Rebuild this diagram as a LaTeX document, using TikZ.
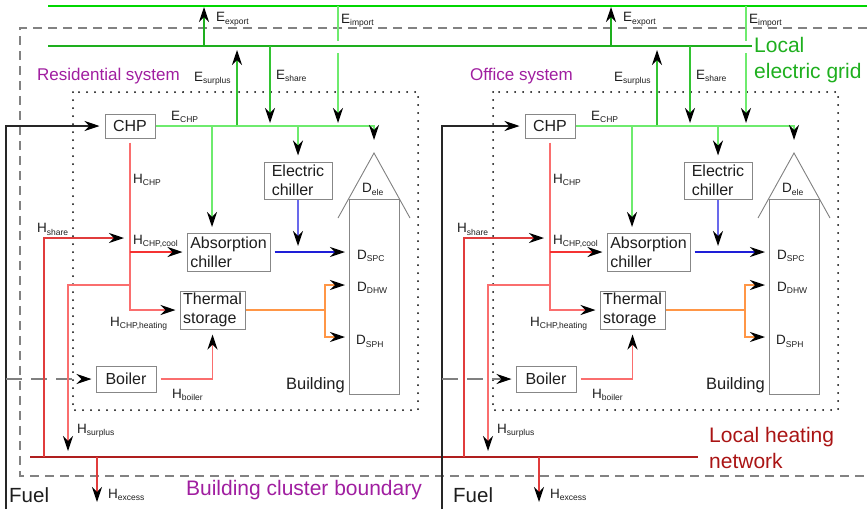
\documentclass[tikz,border=0pt]{standalone}
\usepackage{fontspec}
\setmainfont{Liberation Sans}
\usetikzlibrary{arrows.meta,calc}
\definecolor{gridgreen}{RGB}{0,215,0}
\definecolor{localgreen}{RGB}{30,175,30}
\definecolor{busgreen}{RGB}{110,235,110}
\definecolor{midgreen}{RGB}{50,195,50}
\definecolor{salmon}{RGB}{250,110,110}
\definecolor{hred}{RGB}{225,60,60}
\definecolor{brightred}{RGB}{245,50,50}
\definecolor{netred}{RGB}{175,30,30}
\definecolor{lblred}{RGB}{170,20,20}
\definecolor{sysblue}{RGB}{30,30,215}
\definecolor{lightblue}{RGB}{105,105,235}
\definecolor{orng}{RGB}{255,150,70}
\definecolor{purp}{RGB}{160,30,160}
\definecolor{boxgray}{RGB}{135,135,135}
\definecolor{dashgray}{RGB}{130,130,130}
\definecolor{txt}{RGB}{30,30,30}
\newcommand{\sx}[2]{#1\raisebox{-2.5pt}{\fontsize{8.5}{9}\selectfont #2}}
\begin{document}
\begin{tikzpicture}[x=1pt,y=-1pt,
  arr/.style={-{Stealth[length=15pt,width=10pt,inset=5pt,black]}},
  sysbox/.style={draw=boxgray, line width=1pt, fill=white, text=txt, font=\fontsize{16}{19}\selectfont, align=left, inner sep=0pt},
  bldbox/.style={draw=boxgray, line width=1pt, inner sep=0pt},
  lab/.style={text=txt, font=\fontsize{13.5}{14}\selectfont, inner sep=0pt, anchor=base west},
  syslab/.style={text=purp, font=\fontsize{17}{20}\selectfont, inner sep=0pt, anchor=west},
  bigtxt/.style={text=txt, font=\fontsize{16.5}{20}\selectfont, inner sep=0pt},
  dotbox/.style={draw=black, line width=2pt, dash pattern=on 0pt off 8pt, line cap=round},
  bound/.style={draw=dashgray, line width=1.3pt, dash pattern=on 9pt off 6pt},
  fuelline/.style={draw=black!85, line width=1.1pt},
  fueldash/.style={draw=gray, line width=1.1pt, dash pattern=on 16pt off 9pt},
  gridline/.style={draw=gridgreen, line width=2pt},
  localline/.style={draw=localgreen, line width=2pt},
  netline/.style={draw=netred, line width=1.5pt},
  expline/.style={draw=localgreen, line width=1.4pt},
  impline/.style={draw=busgreen, line width=1.4pt},
  surline/.style={draw=midgreen, line width=1.4pt},
  ebus/.style={draw=busgreen, line width=1.4pt},
  hchp/.style={draw=salmon, line width=1.4pt},
  hcool/.style={draw=brightred, line width=1.4pt},
  hshare/.style={draw=hred, line width=1.4pt},
  blueline/.style={draw=sysblue, line width=1.4pt},
  lblue/.style={draw=lightblue, line width=1.4pt},
  orline/.style={draw=orng, line width=1.4pt},
  roofline/.style={draw=gray, line width=0.9pt}
]
\useasboundingbox (0,0) rectangle (867,509);
% global lines
\coordinate (gg0) at (48,6); \coordinate (gg1) at (867,6);
\coordinate (lg0) at (48,46); \coordinate (lg1) at (752,46);
\coordinate (hn0) at (30,457); \coordinate (hn1) at (698,457);
\coordinate (bd0) at (867,28); \coordinate (bd1) at (20,28);
\coordinate (bd2) at (20,476); \coordinate (bd3) at (867,476);
\draw[bound] (bd0) -- (bd1) -- (bd2) -- (bd3);
\draw[gridline] (gg0) -- (gg1);
\draw[localline] (lg0) -- (lg1);
\draw[netline] (hn0) -- (hn1);
\node[text=localgreen, font=\fontsize{21}{26}\selectfont, align=left, anchor=west, inner sep=0pt] (leg) at (754,60) {Local\\electric grid};
\node[text=lblred, font=\fontsize{21}{26}\selectfont, align=left, anchor=west, inner sep=0pt] (lhn) at (709,448) {Local heating\\network};
\node[text=purp, font=\fontsize{21}{24}\selectfont, inner sep=0pt] (bcb) at (304,490) {Building cluster boundary};
\node[text=txt, font=\fontsize{20.5}{24}\selectfont, inner sep=0pt, anchor=west] (fuel1) at (9,495) {Fuel};
\node[text=txt, font=\fontsize{20.5}{24}\selectfont, inner sep=0pt, anchor=west] (fuel2) at (453,495) {Fuel};

\foreach \p/\dx/\fx/\ex/\ix/\hx/\lx/\sysname in {r/0/6/204/338/97/37/Residential system, o/420/22/191/326/119/50/Office system}{
\begin{scope}[xshift=\dx pt]
  \draw[dotbox] (73,92) rectangle (418,410);
  \node[syslab] (\p sys) at (\lx,76) {\sysname};
  % components
  \node[sysbox, minimum width=50, minimum height=24] (\p chp) at (130,126) {CHP};
  \node[sysbox, minimum width=68, minimum height=37] (\p ech) at (298,180.5) {Electric\\chiller};
  \node[sysbox, minimum width=83, minimum height=38] (\p abs) at (228.5,252) {Absorption\\chiller};
  \node[sysbox, minimum width=65, minimum height=38] (\p ts) at (212.5,310) {Thermal\\storage};
  \node[sysbox, minimum width=60, minimum height=26] (\p boil) at (126,379) {Boiler};
  \node[bldbox, minimum width=50, minimum height=195] (\p bld) at (374,296.5) {};
  \coordinate (\p apex) at (374,153);
  \coordinate (\p rl) at (338,218);
  \coordinate (\p rr) at (410,218);
  \draw[roofline] (\p rl) -- (\p apex) -- (\p rr);
  \node[bigtxt, anchor=base east] (\p bl) at (345,389) {Building};
  % demand labels
  \node[lab] (\p dele) at (362,192.5) {\sx{D}{ele}};
  \node[lab] (\p dspcl) at (357,259) {\sx{D}{SPC}};
  \node[lab] (\p ddhwl) at (357,291) {\sx{D}{DHW}};
  \node[lab] (\p dsphl) at (356,344.5) {\sx{D}{SPH}};
  % flow labels
  \node[lab] (\p lexp) at (\ex+12,21.5) {\sx{E}{export}};
  \node[lab] (\p limp) at (\ix+3,23) {\sx{E}{import}};
  \node[lab] (\p lsur) at (194,81) {\sx{E}{surplus}};
  \node[lab] (\p lsh) at (276,79) {\sx{E}{share}};
  \node[lab] (\p lechp) at (171,120) {\sx{E}{CHP}};
  \node[lab] (\p lhchp) at (133,183) {\sx{H}{CHP}};
  \node[lab] (\p lhsh) at (37,232.5) {\sx{H}{share}};
  \node[lab] (\p lhcool) at (133,244) {\sx{H}{CHP,cool}};
  \node[lab] (\p lhheat) at (110,326) {\sx{H}{CHP,heating}};
  \node[lab] (\p lhboil) at (172,398) {\sx{H}{boiler}};
  \node[lab] (\p lhsur) at (77,433) {\sx{H}{surplus}};
  \node[lab] (\p lhexc) at (\hx+11,498) {\sx{H}{excess}};
  % coordinates
  \coordinate (\p fbot) at (\fx,509);
  \coordinate (\p bfuel) at (\fx,379);
  \coordinate (\p ex0) at (\ex,46); \coordinate (\p ex1) at (\ex,6);
  \coordinate (\p im0) at (\ix,6); \coordinate (\p im1) at (\ix,41);
  \coordinate (\p im2) at (\ix,53); \coordinate (\p im3) at (\ix,126);
  \coordinate (\p su0) at (237,126); \coordinate (\p su1) at (237,46);
  \coordinate (\p sh0) at (270,46); \coordinate (\p sh1) at (270,126);
  \coordinate (\p absin) at (212,233);
  \coordinate (\p hsplit) at (130,285);
  \coordinate (\p hsur) at (68,457);
  \coordinate (\p hsh0) at (44,457);
  \coordinate (\p hsh1) at (130,238);
  \coordinate (\p hex0) at (\hx,457); \coordinate (\p hex1) at (\hx,502);
  \coordinate (\p obr) at (325,310);
  \coordinate (\p dspc) at (349,252);
  \coordinate (\p ddhw) at (349,285);
  \coordinate (\p dsph) at (349,337);
  % fuel
  \draw[fuelline,arr,shorten >=5pt] (\p fbot) |- (\p chp.west);
  \draw[fueldash,arr,shorten >=4pt] (\p bfuel) -- (\p boil.west);
  % electricity
  \draw[expline,arr,shorten >=1pt] (\p ex0) -- (\p ex1);
  \draw[impline] (\p im0) -- (\p im1);
  \draw[impline,arr,shorten >=3pt] (\p im2) -- (\p im3);
  \draw[surline,arr,shorten >=4pt] (\p su0) -- (\p su1);
  \draw[surline,arr,shorten >=3pt] (\p sh0) -- (\p sh1);
  \draw[ebus,arr,shorten >=13pt] (\p chp.east) -| (\p apex);
  \draw[ebus,arr,shorten >=6pt] (\p ech.north |- \p chp.east) -- (\p ech.north);
  \draw[ebus,arr,shorten >=6pt] (\p absin |- \p chp.east) -- (\p absin);
  % heat
  \draw[hchp,arr,shorten <=4pt,shorten >=4pt] (\p chp.south) |- (\p ts.west);
  \draw[hcool,arr,shorten >=4pt] (\p chp.south |- \p abs.west) -- (\p abs.west);
  \draw[hchp,arr,shorten >=6pt] (\p hsplit) -| (\p hsur);
  \draw[hshare,arr,shorten >=6pt] (\p hsh0) |- (\p hsh1);
  \draw[hchp,arr,shorten <=4pt,shorten >=5pt] (\p boil.east) -| (\p ts.south);
  \draw[hshare,arr] (\p hex0) -- (\p hex1);
  % cooling
  \draw[blueline,arr,shorten <=4pt,shorten >=4pt] (\p abs.east) -- (\p dspc);
  \draw[lblue,arr,shorten >=6pt] (\p ech.south) -- (\p ech.south |- \p dspc);
  % storage to building
  \draw[orline] (\p ts.east) -- (\p obr);
  \draw[orline,arr,shorten >=4pt] (\p obr) |- (\p ddhw);
  \draw[orline,arr,shorten >=4pt] (\p obr) |- (\p dsph);
\end{scope}
}
\end{tikzpicture}
\end{document}
